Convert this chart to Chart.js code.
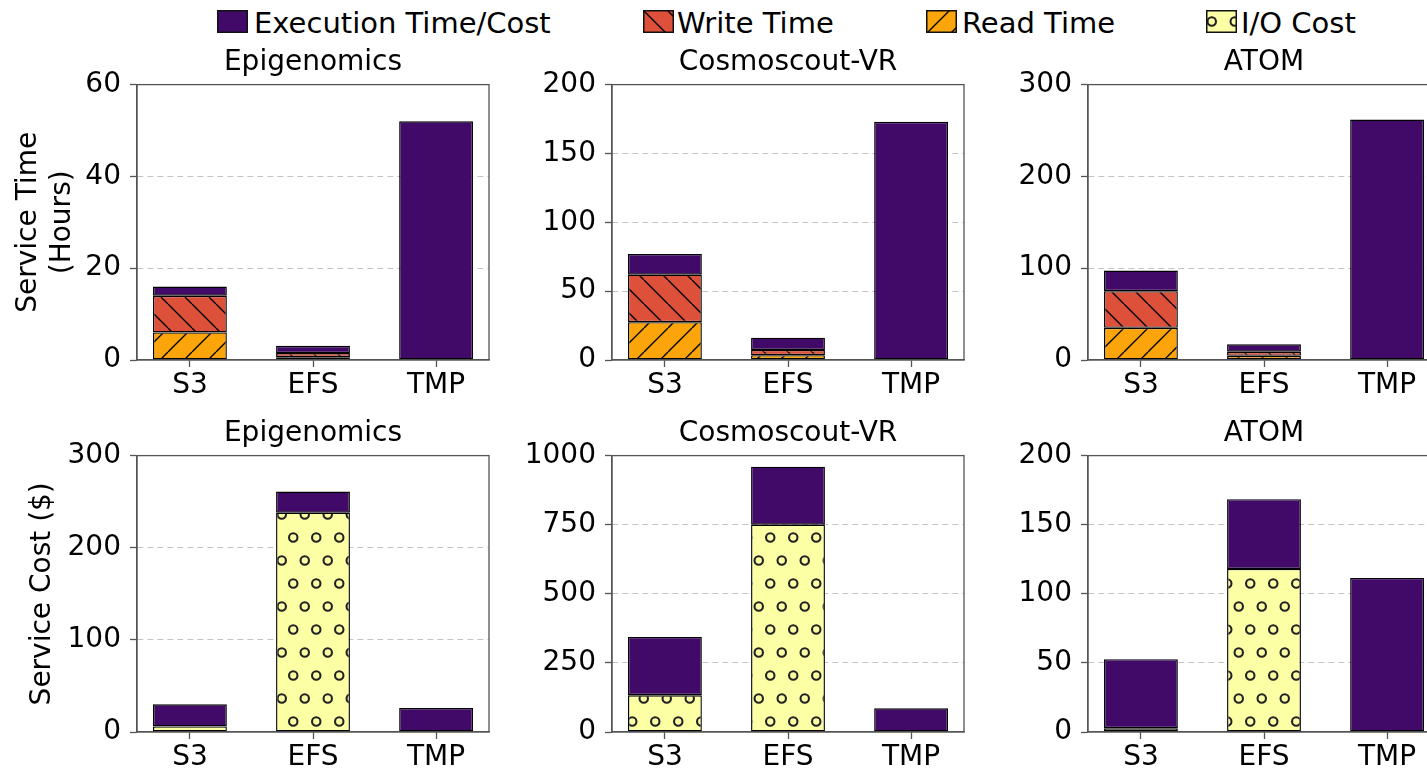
<!DOCTYPE html>
<html>
<head>
<meta charset="utf-8">
<script src="https://cdn.jsdelivr.net/npm/chart.js@4.4.1/dist/chart.umd.min.js"></script>
<style>
  body { margin: 0; width: 1427px; height: 771px; overflow: hidden; background: #fff; position: relative; font-family: 'DejaVu Sans', sans-serif; }
  canvas.plot { position: absolute; }
  .key { position: absolute; top: 10px; width: 31px; height: 23px; }
  .lab { position: absolute; top: 7px; font-size: 29px; line-height: 32px; color: #000; white-space: nowrap; }
</style>
</head>
<body>
<canvas class="key" id="k0" width="31" height="23" style="left:217px"></canvas>
<span class="lab" style="left:254px">Execution Time/Cost</span>
<canvas class="key" id="k1" width="31" height="23" style="left:643px"></canvas>
<span class="lab" style="left:677px">Write Time</span>
<canvas class="key" id="k2" width="31" height="23" style="left:926px"></canvas>
<span class="lab" style="left:962px">Read Time</span>
<canvas class="key" id="k3" width="31" height="23" style="left:1206px"></canvas>
<span class="lab" style="left:1241px">I/O Cost</span>

<canvas class="plot" id="c0" width="500" height="370" style="left:0px;top:40px"></canvas>
<canvas class="plot" id="c1" width="475" height="370" style="left:500px;top:40px"></canvas>
<canvas class="plot" id="c2" width="472" height="370" style="left:980px;top:40px"></canvas>
<canvas class="plot" id="c3" width="500" height="371" style="left:0px;top:411px"></canvas>
<canvas class="plot" id="c4" width="475" height="371" style="left:500px;top:411px"></canvas>
<canvas class="plot" id="c5" width="472" height="371" style="left:980px;top:411px"></canvas>

<script>
// storage services on the x axis
var categories = ['S3', 'EFS', 'TMP'];

// service time (hours)
var epiRead  = [6, 0.6, null];
var epiWrite = [8, 0.9, null];
var epiExec  = [2, 1.6, 52];
var cosRead  = [27.5, 3.5, null];
var cosWrite = [34.5, 3.8, null];
var cosExec  = [15, 8.9, 173];
var atomRead  = [35, 4.5, null];
var atomWrite = [40, 4.5, null];
var atomExec  = [22.5, 8.1, 262];

// service cost ($)
var epiIO       = [6, 238, null];
var epiCostExec = [24, 23, 26];
var cosIO       = [133, 750, null];
var cosCostExec = [211, 210, 86];
var atomIO       = [2.7, 118, null];
var atomCostExec = [50, 50.5, 111.5];

// tick labels
var epiTimeTicks  = [0, 20, 40, 60];
var cosTimeTicks  = [0, 50, 100, 150, 200];
var atomTimeTicks = [0, 100, 200, 300];
var epiCostTicks  = [0, 100, 200, 300];
var cosCostTicks  = [0, 250, 500, 750, 1000];
var atomCostTicks = [0, 50, 100, 150, 200];

var purple = '#420a68', red = '#dd513a', orange = '#fca50a', yellow = '#fcffa4';

function hatch(bg, dir) {
  var s = 24, c = document.createElement('canvas');
  c.width = s; c.height = s;
  var g = c.getContext('2d');
  g.fillStyle = bg; g.fillRect(0, 0, s, s);
  g.strokeStyle = '#000'; g.lineWidth = 1.4;
  g.beginPath();
  for (var k = -1; k <= 1; k++) {
    if (dir == '/') { g.moveTo(k * s, s); g.lineTo(k * s + s, 0); }
    else { g.moveTo(k * s, 0); g.lineTo(k * s + s, s); }
  }
  g.stroke();
  return g.createPattern(c, 'repeat');
}

function rings(bg) {
  var w = 23, h = 46, c = document.createElement('canvas');
  c.width = w; c.height = h;
  var g = c.getContext('2d');
  g.fillStyle = bg; g.fillRect(0, 0, w, h);
  g.strokeStyle = '#222'; g.lineWidth = 2.1;
  g.beginPath(); g.arc(w / 4, h / 4, 4.2, 0, Math.PI * 2); g.stroke();
  g.beginPath(); g.arc(3 * w / 4, 3 * h / 4, 4.2, 0, Math.PI * 2); g.stroke();
  return g.createPattern(c, 'repeat');
}

var readFill = hatch(orange, '/');
var writeFill = hatch(red, '\\');
var ioFill = rings(yellow);

// legend swatches
[purple, writeFill, readFill, ioFill].forEach(function(f, i) {
  var ctx = document.getElementById('k' + i).getContext('2d');
  ctx.fillStyle = f; ctx.fillRect(0, 0, 31, 23);
  ctx.strokeStyle = '#111'; ctx.lineWidth = 1.5; ctx.strokeRect(0.75, 0.75, 29.5, 21.5);
});

Chart.defaults.font.family = "'DejaVu Sans', sans-serif";
Chart.defaults.color = '#000';

var frame = {
  id: 'frame',
  afterDatasetsDraw: function(chart) {
    var a = chart.chartArea, ctx = chart.ctx;
    ctx.save();
    ctx.strokeStyle = '#555'; ctx.lineWidth = 1.3;
    ctx.strokeRect(a.left, a.top, a.right - a.left, a.bottom - a.top);
    ctx.restore();
  }
};

function ds(label, vals, fill) {
  return {
    label: label,
    data: vals.map(function(v, i) { return { x: i, y: v }; }),
    backgroundColor: fill,
    borderColor: '#000',
    borderWidth: 1.4,
    borderSkipped: false,
    barPercentage: 0.6,
    categoryPercentage: 1
  };
}

function makeChart(id, title, ticks, yWidth, padRight, yTitle, yTitlePad, sets) {
  var yMax = ticks[ticks.length - 1];
  new Chart(document.getElementById(id), {
    type: 'bar',
    data: { datasets: sets },
    plugins: [frame],
    options: {
      responsive: false,
      animation: false,
      devicePixelRatio: 1,
      events: [],
      layout: { padding: { right: padRight } },
      plugins: {
        legend: { display: false },
        tooltip: { enabled: false },
        title: {
          display: true, text: title, color: '#000', fullSize: false,
          font: { size: 28, weight: 'normal' },
          padding: { top: 6, bottom: 5 }
        }
      },
      scales: {
        x: {
          type: 'linear', min: -0.43, max: 2.43, stacked: true, offset: false,
          afterBuildTicks: function(s) { s.ticks = categories.map(function(c, i) { return { value: i }; }); },
          afterFit: function(s) { s.height = 50; },
          ticks: {
            callback: function(v) { return categories[v]; },
            font: { size: 28 }, color: '#000', padding: 2, autoSkip: false, maxRotation: 0
          },
          grid: { offset: false, drawOnChartArea: false, tickLength: 7, tickColor: '#555', tickWidth: 1.3 },
          border: { color: '#555', width: 1.3 }
        },
        y: {
          min: 0, max: yMax, stacked: true,
          afterBuildTicks: function(s) { s.ticks = ticks.map(function(v) { return { value: v }; }); },
          afterFit: function(s) { s.width = yWidth; },
          ticks: {
            callback: function(v) { return String(v); },
            font: { size: 28 }, color: '#000', padding: 9
          },
          grid: {
            color: function(c) {
              return (c.tick && (c.tick.value === 0 || c.tick.value === yMax)) ? 'rgba(0,0,0,0)' : '#c4c4c4';
            },
            lineWidth: 1, tickLength: 7, tickColor: '#555', tickWidth: 1.3
          },
          border: { color: '#555', width: 1.3, dash: [6, 4] },
          title: {
            display: !!yTitle, text: yTitle, color: '#000',
            font: { size: 28 }, padding: { top: yTitlePad, bottom: 0 }
          }
        }
      }
    }
  });
}

makeChart('c0', 'Epigenomics', epiTimeTicks, 137, 11, ['Service Time', '(Hours)'], 12, [
  ds('Read Time', epiRead, readFill), ds('Write Time', epiWrite, writeFill), ds('Execution Time/Cost', epiExec, purple)]);
makeChart('c1', 'Cosmoscout-VR', cosTimeTicks, 112, 11, null, 0, [
  ds('Read Time', cosRead, readFill), ds('Write Time', cosWrite, writeFill), ds('Execution Time/Cost', cosExec, purple)]);
makeChart('c2', 'ATOM', atomTimeTicks, 108, 12, null, 0, [
  ds('Read Time', atomRead, readFill), ds('Write Time', atomWrite, writeFill), ds('Execution Time/Cost', atomExec, purple)]);
makeChart('c3', 'Epigenomics', epiCostTicks, 137, 11, 'Service Cost ($)', 26, [
  ds('I/O Cost', epiIO, ioFill), ds('Execution Time/Cost', epiCostExec, purple)]);
makeChart('c4', 'Cosmoscout-VR', cosCostTicks, 112, 11, null, 0, [
  ds('I/O Cost', cosIO, ioFill), ds('Execution Time/Cost', cosCostExec, purple)]);
makeChart('c5', 'ATOM', atomCostTicks, 108, 12, null, 0, [
  ds('I/O Cost', atomIO, ioFill), ds('Execution Time/Cost', atomCostExec, purple)]);
</script>
</body>
</html>
